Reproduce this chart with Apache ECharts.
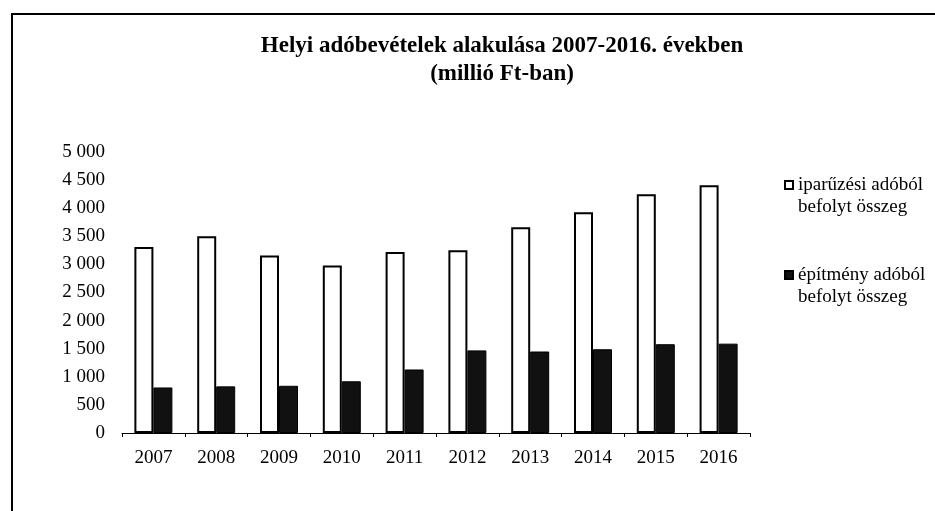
<!DOCTYPE html>
<html>
<head>
<meta charset="utf-8">
<script src="https://cdn.jsdelivr.net/npm/echarts@6/dist/echarts.min.js"></script>
<style>
  html, body { margin: 0; padding: 0; background: #fff; }
  #main { width: 935px; height: 511px; }
</style>
</head>
<body>
<div id="main"></div>
<script>
const years = ["2007", "2008", "2009", "2010", "2011", "2012", "2013", "2014", "2015", "2016"];
const iparuzesi = [3310, 3500, 3160, 2980, 3220, 3250, 3660, 3930, 4250, 4410];
const epitmeny = [810, 830, 840, 920, 1130, 1470, 1450, 1490, 1580, 1590];
const seriesNames = ["iparűzési adóból\nbefolyt összeg", "építmény adóból\nbefolyt összeg"];

const font = "'Liberation Serif', 'Times New Roman', serif";

const myChart = echarts.init(document.getElementById("main"));

const options = {
  backgroundColor: "#fff",
  animation: false,
  title: {
    text: "Helyi adóbevételek alakulása 2007-2016. években\n(millió Ft-ban)",
    left: 497,
    top: 27,
    textAlign: "center",
    textStyle: {
      fontFamily: font,
      fontWeight: "bold",
      fontSize: 23,
      lineHeight: 28,
      color: "#000",
    },
  },
  legend: {
    orient: "vertical",
    left: 779,
    top: 169,
    itemWidth: 8,
    itemHeight: 30,
    itemGap: 46,
    itemTextGap: 4,
    // square sits at the top of the icon box, next to the first text line
    icon: "path://M0,0H8V8H0Z M0,30",
    textStyle: {
      fontFamily: font,
      fontSize: 19,
      lineHeight: 22,
      color: "#000",
    },
    data: seriesNames,
  },
  graphic: [
    {
      type: "polyline",
      shape: { points: [[12, 511], [12, 14], [935, 14]] },
      style: { stroke: "#000", lineWidth: 2, fill: null },
    },
  ],
  grid: {
    left: 122,
    right: 185,
    top: 152,
    bottom: 78,
  },
  xAxis: {
    type: "category",
    data: years,
    axisLine: { lineStyle: { color: "#000", width: 1 } },
    axisTick: { show: true, length: 4, lineStyle: { color: "#000" } },
    axisLabel: {
      fontFamily: font,
      fontSize: 19,
      color: "#000",
      margin: 16,
    },
  },
  yAxis: {
    type: "value",
    min: 0,
    max: 5000,
    interval: 500,
    axisLine: { show: false },
    axisTick: { show: false },
    splitLine: { show: false },
    axisLabel: {
      fontFamily: font,
      fontSize: 19,
      color: "#000",
      margin: 17,
      formatter: (v) => String(v).replace(/\B(?=(\d{3})+(?!\d))/g, " "),
    },
  },
  series: [
    {
      name: seriesNames[0],
      type: "bar",
      data: iparuzesi,
      barWidth: 19,
      barGap: "0%",
      itemStyle: { color: "#fff", borderColor: "#000", borderWidth: 2 },
    },
    {
      name: seriesNames[1],
      type: "bar",
      data: epitmeny,
      barWidth: 19,
      itemStyle: { color: "#111", borderColor: "#000", borderWidth: 1 },
    },
  ],
};

myChart.setOption(options);
</script>
</body>
</html>
